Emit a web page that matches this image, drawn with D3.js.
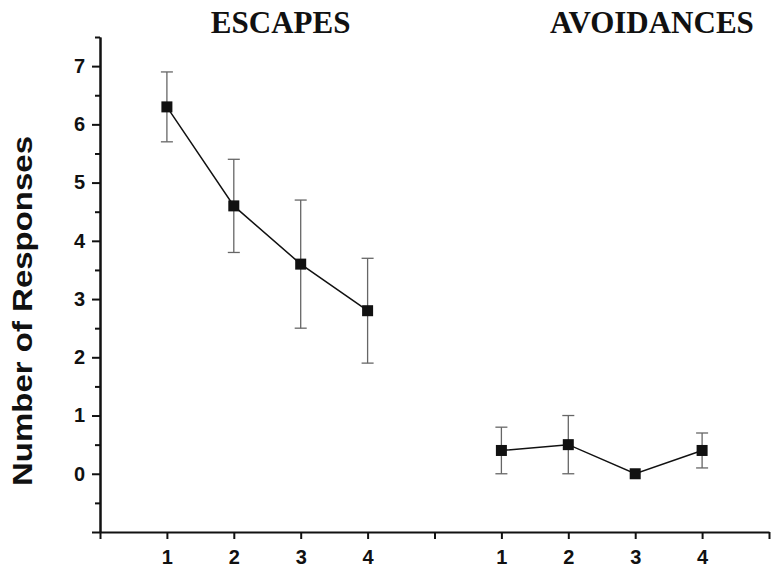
<!DOCTYPE html>
<html>
<head>
<meta charset="utf-8">
<script src="https://cdn.jsdelivr.net/npm/d3@7"></script>
<style>
  body { margin: 0; background: #fff; }
  .tick text { font-family: Arial, "Liberation Sans", sans-serif; font-weight: bold; font-size: 20px; fill: #111; }
  .domain, .tick line { stroke: #111; stroke-width: 2; }
  .title { font-family: "Liberation Serif", "Times New Roman", serif; font-weight: bold; font-size: 31px; fill: #111; }
</style>
</head>
<body>
<svg id="chart" width="771" height="567"></svg>
<script>
// sessions, plotted in two panels
let sessions = [1, 2, 3, 4];
let panelNames = ["ESCAPES", "AVOIDANCES"];
let panelOffset = [0, 5];
let titleAt = [2.7, 8.25];

let escapeMean = [6.3, 4.6, 3.6, 2.8];
let escapeHigh = [6.9, 5.4, 4.7, 3.7];
let escapeLow = [5.7, 3.8, 2.5, 1.9];

let avoidMean = [0.4, 0.5, 0.0, 0.4];
let avoidHigh = [0.8, 1.0, 0.0, 0.7];
let avoidLow = [0.0, 0.0, 0.0, 0.1];

let yMajor = [-1, 0, 1, 2, 3, 4, 5, 6, 7];
let yLabels = [0, 1, 2, 3, 4, 5, 6, 7];

let svg = d3.select("#chart");
let margin = { top: 37, right: 2, bottom: 35, left: 100 };
let width = 771, height = 567;

let x = d3.scaleLinear()
  .domain([0, 10])
  .range([margin.left, width - margin.right]);
let y = d3.scaleLinear()
  .domain([-1, 7.5])
  .range([height - margin.bottom, margin.top]);

// y axis: minor ticks every 0.5
let yMinor = d3.range(-1, 7.51, 0.5).filter(function(d) { return d % 1 != 0; });

svg.append("g")
  .attr("transform", "translate(" + margin.left + ",0)")
  .call(d3.axisLeft(y).tickValues(yMinor).tickSize(5).tickFormat("").tickSizeOuter(0));

svg.append("g")
  .attr("transform", "translate(" + margin.left + ",0)")
  .call(d3.axisLeft(y)
    .tickValues(yMajor)
    .tickSize(8)
    .tickPadding(7)
    .tickSizeOuter(0)
    .tickFormat(function(d) { return yLabels.indexOf(d) >= 0 ? d : ""; }));

// x axis
let xTicks = d3.range(0, 11);
svg.append("g")
  .attr("transform", "translate(0," + y(-1) + ")")
  .call(d3.axisBottom(x)
    .tickValues(xTicks)
    .tickSize(7)
    .tickPadding(11)
    .tickSizeOuter(0)
    .tickFormat(function(d) {
      if (d >= 1 && d <= 4) return d;
      if (d >= 6 && d <= 9) return d - 5;
      return "";
    }));

// y title
svg.append("text")
  .attr("transform", "translate(32," + 311 + ") rotate(-90)")
  .attr("text-anchor", "middle")
  .attr("textLength", 350)
  .attr("lengthAdjust", "spacingAndGlyphs")
  .style("font-family", "Arial, 'Liberation Sans', sans-serif")
  .style("font-weight", "bold")
  .style("font-size", "28px")
  .style("fill", "#111")
  .text("Number of Responses");

// panel titles
svg.selectAll(".title")
  .data(panelNames)
  .enter().append("text")
    .classed("title", true)
    .attr("x", function(d, i) { return x(titleAt[i]); })
    .attr("y", 33)
    .attr("text-anchor", "middle")
    .text(function(d) { return d; });

function panelData(mean, high, low, offset) {
  return sessions.map(function(s, i) {
    return { x: s + offset, m: mean[i], hi: high[i], lo: low[i] };
  });
}

let panels = [
  panelData(escapeMean, escapeHigh, escapeLow, panelOffset[0]),
  panelData(avoidMean, avoidHigh, avoidLow, panelOffset[1])
];

let line = d3.line()
  .x(function(d) { return x(d.x); })
  .y(function(d) { return y(d.m); });

panels.forEach(function(data) {
  let g = svg.append("g");

  // error bars
  let bars = g.selectAll(".err")
    .data(data.filter(function(d) { return d.hi != d.lo; }))
    .enter().append("g")
      .attr("stroke", "#666")
      .attr("stroke-width", 1.3);
  bars.append("line")
    .attr("x1", function(d) { return x(d.x); })
    .attr("x2", function(d) { return x(d.x); })
    .attr("y1", function(d) { return y(d.hi); })
    .attr("y2", function(d) { return y(d.lo); });
  bars.append("line")
    .attr("x1", function(d) { return x(d.x) - 6; })
    .attr("x2", function(d) { return x(d.x) + 6; })
    .attr("y1", function(d) { return y(d.hi); })
    .attr("y2", function(d) { return y(d.hi); });
  bars.append("line")
    .attr("x1", function(d) { return x(d.x) - 6; })
    .attr("x2", function(d) { return x(d.x) + 6; })
    .attr("y1", function(d) { return y(d.lo); })
    .attr("y2", function(d) { return y(d.lo); });

  g.append("path")
    .datum(data)
    .attr("d", line)
    .attr("fill", "none")
    .attr("stroke", "#111")
    .attr("stroke-width", 1.5);

  g.selectAll(".pt")
    .data(data)
    .enter().append("rect")
      .attr("x", function(d) { return x(d.x) - 5.5; })
      .attr("y", function(d) { return y(d.m) - 5.5; })
      .attr("width", 11)
      .attr("height", 11)
      .attr("fill", "#111");
});
</script>
</body>
</html>
